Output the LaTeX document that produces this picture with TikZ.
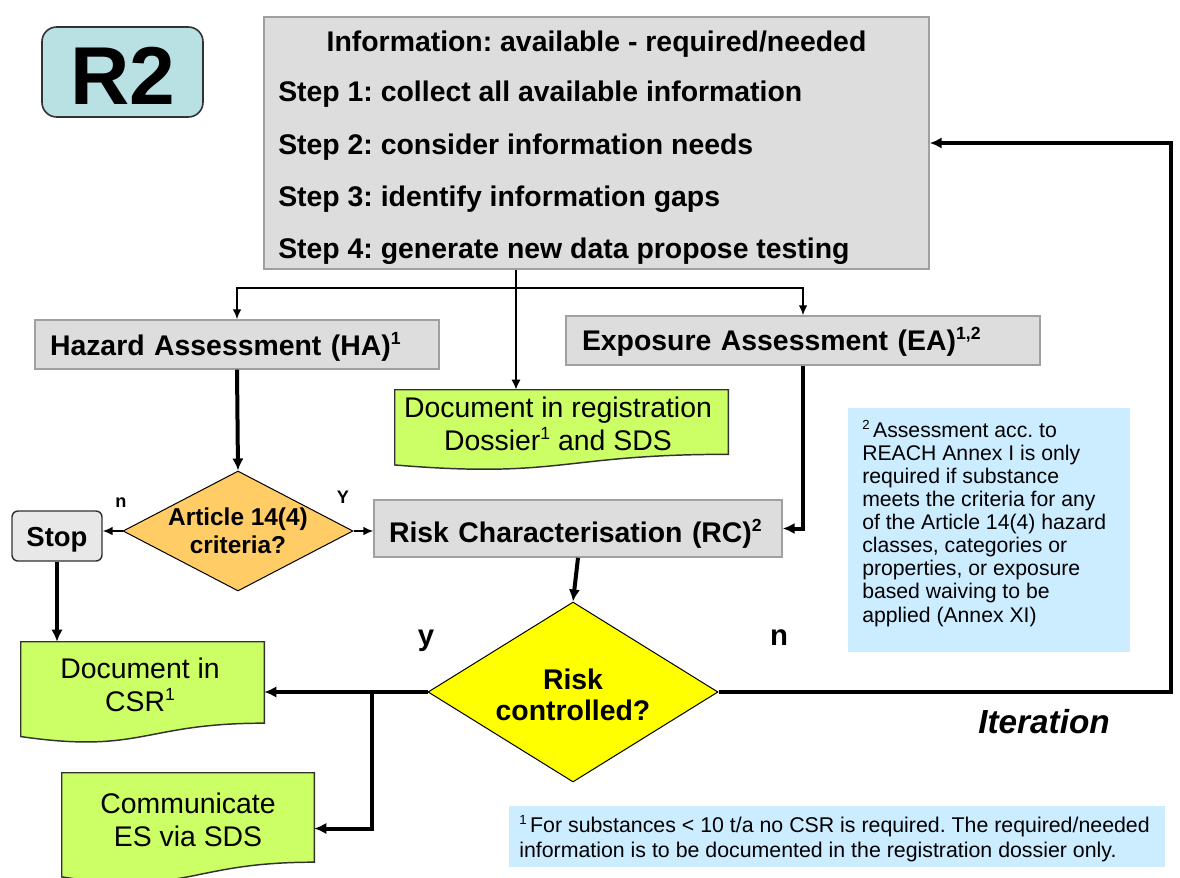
\documentclass[tikz,border=0pt]{standalone}
\usepackage{fontspec}
\setmainfont{Liberation Sans}
\usetikzlibrary{shapes.geometric,arrows.meta,calc}
\frenchspacing
\definecolor{boxgray}{RGB}{221,221,221}
\definecolor{bordergray}{RGB}{160,160,160}
\definecolor{rtwofill}{RGB}{185,225,228}
\definecolor{darkborder}{RGB}{50,50,50}
\definecolor{docgreen}{RGB}{204,255,102}
\definecolor{artorange}{RGB}{255,204,102}
\definecolor{riskyellow}{RGB}{255,255,0}
\definecolor{noteblue}{RGB}{204,236,255}
\definecolor{stopgray}{RGB}{232,232,232}
\newcommand{\fbig}{\fontsize{21.3}{25}\selectfont}
\newcommand{\supx}[1]{\raisebox{0.36em}{\scalebox{0.62}{#1}}}
\newcommand{\docpath}[1]{%
  \draw[docline] (#1.north west) -- (#1.north east)
    -- ($(#1.north east)!0.802!(#1.south east)$)
    .. controls ($(#1.north)!0.802!(#1.south)$) and ($(#1.north)!1.107!(#1.south)$) ..
    ($(#1.north west)!0.934!(#1.south west)$) -- cycle;}
\begin{document}
\begin{tikzpicture}[x=0.75pt,y=-0.75pt,
  graybox/.style={draw=bordergray,line width=1.1pt,fill=boxgray,inner ysep=0pt,
    align=left,font=\fbig\bfseries,text depth=0pt},
  txt/.style={inner sep=0pt},
  docnode/.style={draw=none,inner sep=0pt},
  docline/.style={draw=darkborder,line width=1.1pt,fill=docgreen},
  doctext/.style={txt,font=\fontsize{21.3}{24.75}\selectfont,align=center,anchor=base},
  notebox/.style={draw=none,fill=noteblue,inner sep=0pt},
  thinline/.style={line width=1.2pt},
  thinarrow/.style={line width=1.2pt,-{Latex[length=7.5pt,width=6.5pt]}},
  midarrow/.style={line width=1.5pt,-{Latex[length=7.5pt,width=7pt]}},
  thickarrow/.style={line width=3pt,-{Latex[length=9pt,width=8.5pt]}},
  smalllabel/.style={txt,font=\fontsize{13.6}{15}\selectfont\bfseries,anchor=base},
  biglabel/.style={txt,font=\fontsize{22}{25}\selectfont\bfseries,anchor=base}]
\useasboundingbox (0,0) rectangle (1180,877);

% ---- boxes
\node[draw=darkborder,line width=1.2pt,rounded corners=11pt,fill=rtwofill,
  minimum width=120.75pt,minimum height=67.5pt,inner sep=0pt,
  text height=49.5pt,text depth=0pt,font=\fontsize{61.6}{70}\selectfont\bfseries]
  (r2) at (122.5,72) {R2};
\node[draw=bordergray,line width=1.1pt,fill=boxgray,minimum width=498.75pt,
  minimum height=189pt,inner sep=0pt] (info) at (596.5,143) {};
\node[graybox,minimum width=303pt,minimum height=36.75pt,inner xsep=11.25pt,
  text width=280.5pt,text height=15.75pt] (ha) at (237,344.5)
  {Hazard Assessment (HA)\supx{1}};
\node[graybox,minimum width=355.5pt,minimum height=36.75pt,inner xsep=12pt,
  text width=331.5pt,text height=14.25pt] (ea) at (803,340.5)
  {Exposure Assessment (EA)\supx{1,2}};
\node[graybox,minimum width=306pt,minimum height=42.75pt,inner xsep=11.25pt,
  text width=283.5pt,text height=20.25pt] (rc) at (578,528.5)
  {Risk Characterisation (RC)\supx{2}};
\node[draw=darkborder,line width=1.1pt,rounded corners=4.5pt,fill=stopgray,
  minimum width=67.5pt,minimum height=37.5pt,inner sep=0pt,text height=15pt,
  text depth=0pt,font=\fontsize{20.6}{24}\selectfont\bfseries] (stop) at (57,536) {Stop};
\node[diamond,draw=black,line width=0.75pt,fill=artorange,minimum width=172.5pt,
  minimum height=90pt,inner sep=0pt] (art) at (238,531) {};
\node[diamond,draw=black,line width=0.75pt,fill=riskyellow,minimum width=217.5pt,
  minimum height=135pt,inner sep=0pt] (risk) at (573,692) {};
\node[notebox,minimum width=211.5pt,minimum height=183pt] (ntwo) at (989,530) {};
\node[notebox,minimum width=492pt,minimum height=45.75pt] (none) at (837,836.5) {};

% ---- document shapes
\node[docnode,minimum width=249.75pt,minimum height=60pt] (reg) at (561.5,430) {};
\node[docnode,minimum width=182.25pt,minimum height=75.75pt] (csr) at (142.5,692.5) {};
\node[docnode,minimum width=189pt,minimum height=83.25pt] (comm) at (188,828.5) {};
\docpath{reg}
\docpath{csr}
\docpath{comm}

% ---- texts (base anchor = baseline of the last line)
\node[txt,font=\fbig\bfseries,anchor=base] (infoT) at (596.5,52) {Information: available - required/needed};
\node[txt,font=\fbig\bfseries,anchor=base west] (stepA) at (278,102) {Step 1: collect all available information};
\node[txt,font=\fbig\bfseries,anchor=base west] (stepB) at (278,155) {Step 2: consider information needs};
\node[txt,font=\fbig\bfseries,anchor=base west] (stepC) at (278,207) {Step 3: identify information gaps};
\node[txt,font=\fbig\bfseries,anchor=base west] (stepD) at (278,258) {Step 4: generate new data propose testing};
\node[txt,font=\fontsize{18.3}{21}\selectfont\bfseries,align=center,anchor=base] (artT) at (238,553)
  {Article 14(4)\\criteria?};
\node[txt,font=\fontsize{21.3}{23.25}\selectfont\bfseries,align=center,anchor=base] (riskT) at (573,720)
  {Risk\\controlled?};
\node[doctext] (regT) at (558,450) {Document in registration\\Dossier\supx{1} and SDS};
\node[doctext] (csrT) at (140,711) {Document in\\CSR\supx{1}};
\node[doctext] (commT) at (188,846) {Communicate\\ES via SDS};
\node[txt,font=\fontsize{15.9}{17.3}\selectfont,align=left,anchor=base west] (ntwoT) at (862,622)
  {\supx{2}\,Assessment acc. to\\REACH Annex I is only\\required if substance\\meets the criteria for any\\of the Article 14(4) hazard\\classes, categories or\\properties, or exposure\\based waiving to be\\applied (Annex XI)};
\node[txt,font=\fontsize{16}{18.75}\selectfont,align=left,anchor=base west] (noneT) at (519,857)
  {\supx{1}\,For substances < 10 t/a no CSR is required. The required/needed\\information is to be documented in the registration dossier only.};

% ---- connectors
\coordinate (br) at (516,288);
\coordinate (bj) at (372,692);
\draw[thinline] (info.south -| br) -- (br);
\draw[midarrow] (br) -- (br |- reg.north);
\draw[thinarrow] (br) -| (ha.north);
\draw[thinarrow] (br) -| (ea.north);
\draw[thickarrow] (ha.south) -- (art.north);
\draw[thinarrow] (art.west) -- (art.west -| stop.east);
\draw[thinarrow] (art.east) -- (art.east -| rc.west);
\draw[thickarrow] (ea.south) |- (rc.east);
\draw[thickarrow] (rc.south) -- (risk.north);
\draw[thickarrow] (stop.south) -- (stop.south |- csr.north);
\draw[thickarrow] (risk.west) -- (risk.west -| csr.east);
\draw[thickarrow] (bj) |- (comm.east);
\draw[thickarrow] (risk.east) -- ++(452,0) |- (info.east);

% ---- labels
\node[smalllabel] (lbn) at (121,507) {n};
\node[smalllabel] (lbY) at (343,503) {Y};
\node[biglabel] (lby) at (426,645) {y};
\node[biglabel] (lbnn) at (779,645) {n};
\node[txt,font=\fontsize{25}{28}\selectfont\bfseries\itshape,anchor=base] (iter) at (1044,733) {Iteration};
\end{tikzpicture}
\end{document}
